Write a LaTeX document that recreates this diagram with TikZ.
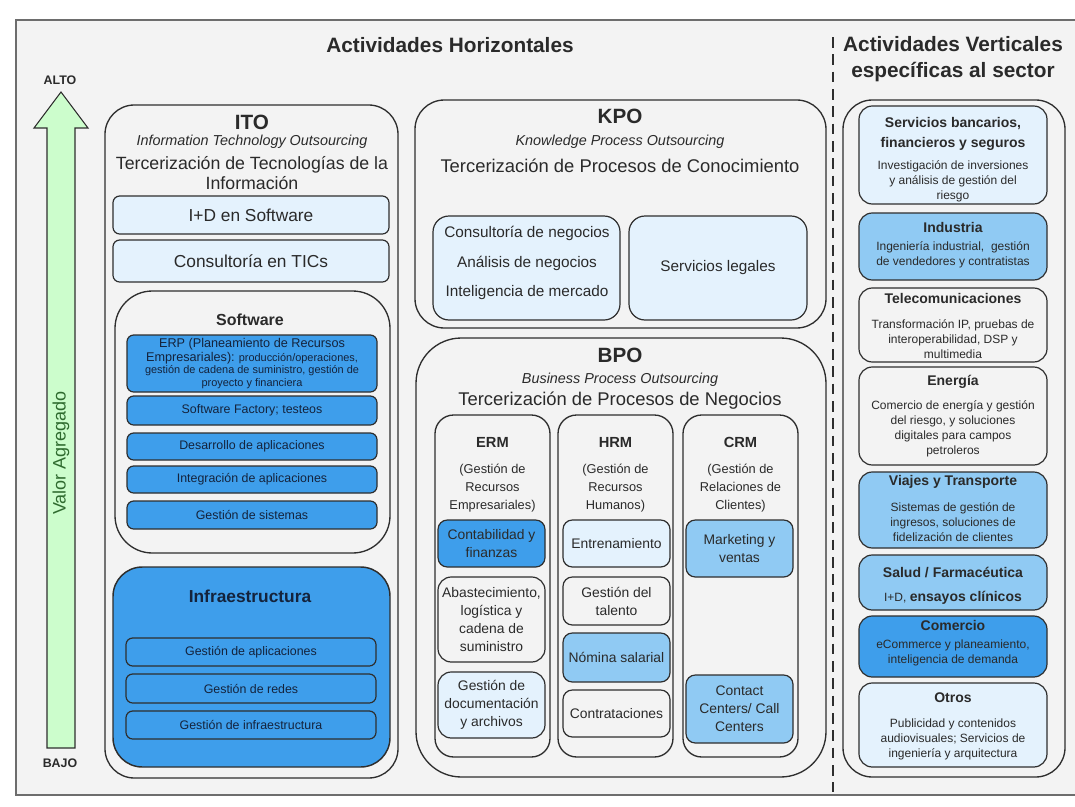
\documentclass[tikz,border=0pt]{standalone}
\usepackage{fontspec}
\setmainfont{Liberation Sans}
\usepackage{xcolor}
\usetikzlibrary{positioning,fit,calc,arrows.meta}

\definecolor{bggray}{HTML}{F3F3F3}
\definecolor{linec}{HTML}{2E2E2E}
\definecolor{lightb}{HTML}{E4F2FD}
\definecolor{paleb}{HTML}{90CAF3}
\definecolor{midb}{HTML}{3E9EEB}
\definecolor{navy}{HTML}{14233C}
\definecolor{txt}{HTML}{2A2A2A}
\definecolor{arrowg}{HTML}{CCFDCC}
\definecolor{darkg}{HTML}{2F6B2F}

\tikzset{
  group/.style={draw=linec, line width=1pt, rounded corners=18pt, inner sep=0pt},
  item/.style={draw=linec, line width=0.9pt, rounded corners=5pt, inner sep=0pt},
  lightitem/.style={item, fill=lightb},
  paleitem/.style={item, fill=paleb},
  miditem/.style={item, fill=midb},
  label/.style={align=center, text=txt, inner sep=0pt},
  bluelabel/.style={align=center, text=navy, inner sep=0pt},
  head/.style={font=\bfseries\fontsize{15.5}{18}\selectfont, text=txt},
  sub/.style={font=\itshape\fontsize{10.8}{12}\selectfont, text=txt},
  long/.style={font=\fontsize{13.3}{15}\selectfont, align=center, text=txt},
  colhead/.style={font=\bfseries\fontsize{11}{12}\selectfont, text=txt},
  coldesc/.style={font=\fontsize{9.6}{13.5}\selectfont, align=center, text=txt},
  colitem/.style={font=\fontsize{10.4}{13.5}\selectfont},
  sectitle/.style={font=\bfseries\fontsize{10.5}{15}\selectfont, align=center, text=txt},
  secbody/.style={font=\fontsize{9}{11.2}\selectfont, align=center, text=txt},
}

\begin{document}
\begin{tikzpicture}[x=0.75pt, y=-0.75pt]
\useasboundingbox (0,0) rectangle (1075,807);

% background frame
\fill[bggray] (16,20) rectangle (1075,795);
\draw[linec!70, line width=1.2pt] (1075,20) -- (16,20) -- (16,795) -- (1075,795);

% titles and divider
\node[font=\bfseries\fontsize{15.6}{18}\selectfont, text=txt] (horiz) at (450,45) {Actividades Horizontales};
\node[font=\bfseries\fontsize{15.6}{20}\selectfont, align=center, text=txt] (vert) at (953,59) {Actividades Verticales\\específicas al sector};
\draw[linec, line width=1.6pt, dash pattern=on 8pt off 5pt] (833,37) -- (833,792);

% value arrow
\draw[linec, fill=arrowg, line width=0.8pt] (47,748) -- (47,128) -- (34,128) -- (61,92)
  -- (88,128) -- (75,128) -- (75,748) -- cycle;
\node[font=\bfseries\fontsize{9.3}{10}\selectfont, text=txt] (alto) at (60,80) {ALTO};
\node[font=\bfseries\fontsize{9.3}{10}\selectfont, text=txt] (bajo) at (60,763) {BAJO};
\node[rotate=90, text=darkg, font=\fontsize{13.5}{15}\selectfont] (valor) at (61,453) {Valor Agregado};

% ITO
\node[group, rounded corners=22pt, fit={(105,105) (398,778)}] (ito) {};
\node[head] (ito-t) at (252,122) {ITO};
\node[sub] (ito-s) at (252,142) {Information Technology Outsourcing};
\node[long] (ito-d) at (252,173) {Tercerización de Tecnologías de la\\Información};
\node[lightitem, fit={(113,196) (389,234)}] (ido) {};
\node[label, font=\fontsize{13}{14}\selectfont] (ido-t) at (ido.center) {I+D en Software};
\node[lightitem, fit={(113,240) (389,282)}] (tics) {};
\node[label, font=\fontsize{13}{14}\selectfont] (tics-t) at (tics.center) {Consultoría en TICs};

% Software
\node[group, rounded corners=28pt, fit={(115,291) (390,553)}] (soft) {};
\node[font=\bfseries\fontsize{12}{14}\selectfont, text=txt] (soft-t) at (250,320) {Software};
\node[miditem, fit={(127,335) (377,392)}] (erp) {};
\node[bluelabel, font=\fontsize{8.2}{9.4}\selectfont] (erp-t) at (erp.center)
  {{\fontsize{9.5}{9.4}\selectfont ERP (Planeamiento de Recursos}\\[1pt]{\fontsize{9.5}{9.4}\selectfont Empresariales):} producción/operaciones,\\gestión de cadena de suministro, gestión de\\proyecto y financiera};
\foreach \name/\ya/\yb/\txt in {fact/396/425/{Software Factory; testeos},
    desa/433/460/{Desarrollo de aplicaciones}, inte/466/493/{Integración de aplicaciones},
    gsis/501/529/{Gestión de sistemas}} {
  \node[miditem, fit={(127,\ya) (377,\yb)}] (\name) {};
  \node[bluelabel, font=\fontsize{9.3}{10}\selectfont] (\name-t) at (\name.center) {\txt};
}

% Infraestructura
\node[group, fill=midb, rounded corners=22pt, line width=1.1pt, fit={(113,567) (390,767)}] (infra) {};
\node[font=\bfseries\fontsize{13}{15}\selectfont, text=navy] (infra-t) at (250,596) {Infraestructura};
\foreach \name/\ya/\yb/\txt in {gapl/638/666/{Gestión de aplicaciones},
    gred/674/703/{Gestión de redes}, ginf/711/739/{Gestión de infraestructura}} {
  \node[miditem, fit={(126,\ya) (376,\yb)}] (\name) {};
  \node[bluelabel, font=\fontsize{9.3}{10}\selectfont] (\name-t) at (\name.center) {\txt};
}

% KPO
\node[group, rounded corners=22pt, fit={(415,100) (826,328)}] (kpo) {};
\node[head] (kpo-t) at (620,116) {KPO};
\node[sub] (kpo-s) at (620,142) {Knowledge Process Outsourcing};
\node[long, font=\fontsize{13.8}{15}\selectfont] (kpo-d) at (620,166) {Tercerización de Procesos de Conocimiento};
\node[lightitem, rounded corners=12pt, fit={(433,216) (620,320)}] (kcons) {};
\node[label, font=\fontsize{11.5}{22}\selectfont] (kcons-t) at (527,263)
  {Consultoría de negocios\\Análisis de negocios\\Inteligencia de mercado};
\node[lightitem, rounded corners=12pt, fit={(629,216) (807,320)}] (legal) {};
\node[label, font=\fontsize{11.5}{13}\selectfont] (legal-t) at (legal.center) {Servicios legales};

% BPO
\node[group, rounded corners=34pt, fit={(416,338) (826,777)}] (bpo) {};
\node[head] (bpo-t) at (620,355) {BPO};
\node[sub] (bpo-s) at (620,380) {Business Process Outsourcing};
\node[long, font=\fontsize{13.8}{15}\selectfont] (bpo-d) at (620,401) {Tercerización de Procesos de Negocios};
\foreach \name/\xa/\xb/\ttl/\desc in {erm/435/550/ERM/{(Gestión de\\Recursos\\Empresariales)},
    hrm/558/673/HRM/{(Gestión de\\Recursos\\Humanos)},
    crm/683/798/CRM/{(Gestión de\\Relaciones de\\Clientes)}} {
  \node[group, rounded corners=14pt, fit={(\xa,415) (\xb,757)}] (\name) {};
  \node[colhead] (\name-t) at ({(\xa+\xb)/2},442) {\ttl};
  \node[coldesc] (\name-d) at ({(\xa+\xb)/2},488) {\desc};
}

% ERM, HRM and CRM items
\foreach \name/\fc/\r/\xa/\ya/\yb/\txt in {
    contab/midb/7/438/520/567/{Contabilidad y\\finanzas},
    abast/none/10/438/577/662/{Abastecimiento,\\logística y\\cadena de\\suministro},
    gdoc/lightb/10/438/672/738/{Gestión de\\documentación\\y archivos},
    entre/lightb/7/563/520/567/{Entrenamiento},
    gtal/none/7/563/577/625/{Gestión del\\talento},
    nomina/paleb/7/563/633/682/{Nómina salarial},
    contr/none/7/563/690/737/{Contrataciones},
    mkt/paleb/7/686/520/577/{Marketing y\\ventas},
    contact/paleb/7/686/675/743/{Contact\\Centers/ Call\\Centers}} {
  \node[item, fill=\fc, rounded corners=\r pt, fit={(\xa,\ya) ({\xa+107},\yb)}] (\name) {};
  \node[label, colitem] (\name-t) at (\name.center) {\txt};
}

% sectors
\node[group, rounded corners=22pt, fit={(843,100) (1065,777)}] (sector) {};
\foreach \name/\ya/\yb/\fc/\ttl/\ty/\body/\by in {
    banca/106/204/lightb/{Servicios bancarios,\\financieros y seguros}/134/{Investigación de inversiones\\y análisis de gestión del\\riesgo}/181,
    indus/213/280/paleb/{Industria}/227/{Ingeniería industrial,\ \ gestión\\de vendedores y contratistas}/255,
    telco/288/362/none/{Telecomunicaciones}/298/{Transformación IP, pruebas de\\interoperabilidad, DSP y\\multimedia}/339,
    energ/367/465/none/{Energía}/382/{Comercio de energía y gestión\\del riesgo, y soluciones\\digitales para campos\\petroleros}/429,
    viaje/472/548/paleb/{Viajes y Transporte}/482/{Sistemas de gestión de\\ingresos, soluciones de\\fidelización de clientes}/522,
    salud/555/610/paleb/{Salud / Farmacéutica}/572/{I+D, {\bfseries\fontsize{10.5}{12}\selectfont ensayos clínicos}}/598,
    comer/616/677/midb/{Comercio}/625/{eCommerce y planeamiento,\\inteligencia de demanda}/653,
    otros/683/767/lightb/{Otros}/698/{Publicidad y contenidos\\audiovisuales; Servicios de\\ingeniería y arquitectura}/739} {
  \node[item, fill=\fc, rounded corners=10pt, fit={(859,\ya) (1047,\yb)}] (\name) {};
  \node[sectitle] (\name-t) at (953,\ty) {\ttl};
  \node[secbody] (\name-b) at (953,\by) {\body};
}
\end{tikzpicture}
\end{document}
